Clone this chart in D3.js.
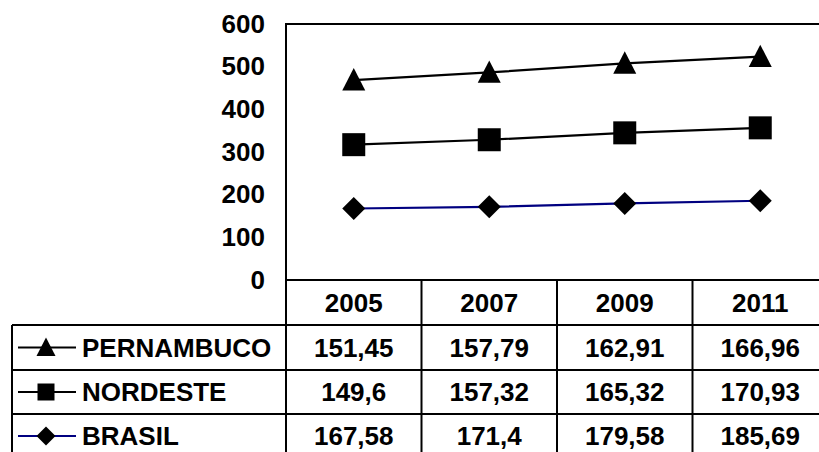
<!DOCTYPE html>
<html><head><meta charset="utf-8">
<script src="https://cdn.jsdelivr.net/npm/d3@7"></script>
<style>body{margin:0;background:#fff}svg{display:block}</style>
</head><body>
<script>
const years = ["2005","2007","2009","2011"];
const seriesNames = ["PERNAMBUCO","NORDESTE","BRASIL"];
const pernambuco = [151.45,157.79,162.91,166.96];
const nordeste = [149.6,157.32,165.32,170.93];
const brasil = [167.58,171.4,179.58,185.69];
const yTicks = [0,100,200,300,400,500,600];

const W=819,H=452;
const svg=d3.select("body").append("svg").attr("width",W).attr("height",H);
const font="'Liberation Sans', Arial, sans-serif";
const fs=26;

const plotL=286, plotR=828, plotT=24, plotB=280;
const x=d3.scaleBand().domain(years).range([plotL,plotR]);
const y=d3.scaleLinear().domain([0,600]).range([plotB,plotT]);

// stacked values (stacked line chart)
const stackBase = brasil;
const stackMid = brasil.map((v,i)=>v+nordeste[i]);
const stackTop = stackMid.map((v,i)=>v+pernambuco[i]);
const series=[
 {name:seriesNames[0], vals:pernambuco, plot:stackTop, color:"#000", sym:"tri"},
 {name:seriesNames[1], vals:nordeste, plot:stackMid, color:"#000", sym:"sq"},
 {name:seriesNames[2], vals:brasil, plot:stackBase, color:"#000080", sym:"dia"}
];

function marker(g,sym,cx,cy,s){
  let p;
  if(sym==="tri") p=`M${cx},${cy-s*0.52}L${cx+s*0.5},${cy+s*0.45}L${cx-s*0.5},${cy+s*0.45}Z`;
  else if(sym==="sq") p=`M${cx-s/2},${cy-s/2}h${s}v${s}h${-s}Z`;
  else p=`M${cx},${cy-s/2}L${cx+s/2},${cy}L${cx},${cy+s/2}L${cx-s/2},${cy}Z`;
  g.append("path").attr("d",p).attr("fill","#000");
}

// frame
svg.append("rect").attr("x",plotL).attr("y",plotT).attr("width",plotR-plotL).attr("height",plotB-plotT)
 .attr("fill","none").attr("stroke","#000").attr("stroke-width",2);

// y axis labels
const yAxis=d3.axisLeft(y).tickValues(yTicks).tickSize(0).tickPadding(21);
const ga=svg.append("g").attr("transform",`translate(${plotL},0)`).call(yAxis);
ga.select(".domain").remove();
ga.selectAll("text").attr("font-family",font).attr("font-size",fs).attr("font-weight","bold").attr("fill","#000");

// lines
const cx=yr=>x(yr)+x.bandwidth()/2;
const line=d3.line().x((d,i)=>cx(years[i])).y(d=>y(d));
series.forEach(s=>{
  svg.append("path").datum(s.plot).attr("d",line).attr("fill","none").attr("stroke",s.color).attr("stroke-width",2.2);
  const g=svg.append("g");
  s.plot.forEach((v,i)=>marker(g,s.sym,cx(years[i]),y(v),23));
});

// table
const rowTop=[280,325,370,414], rowH=[45,45,44,44];
const tbl=svg.append("g");
const tLeft=12;
const stroke=(x1,y1,x2,y2)=>tbl.append("line").attr("x1",x1).attr("y1",y1).attr("x2",x2).attr("y2",y2).attr("stroke","#000").attr("stroke-width",2);
years.forEach(yr=>{
  tbl.append("text").attr("x",cx(yr)).attr("y",rowTop[0]+rowH[0]/2).attr("dy","0.36em")
   .attr("text-anchor","middle").attr("font-family",font).attr("font-size",fs).attr("font-weight","bold").text(yr);
});
years.forEach(yr=>stroke(x(yr),280,x(yr),H+5));
stroke(tLeft,325,tLeft,H+5);
[325,370,414].forEach(yy=>stroke(tLeft,yy,plotR,yy));

series.forEach((s,ri)=>{
  const cy=rowTop[ri+1]+rowH[ri+1]/2;
  tbl.append("line").attr("x1",18).attr("x2",76).attr("y1",cy).attr("y2",cy).attr("stroke",s.color).attr("stroke-width",2);
  marker(tbl,s.sym,46,cy,s.sym==="sq"?17:19);
  tbl.append("text").attr("x",82).attr("y",cy).attr("dy","0.36em").attr("font-family",font).attr("font-size",fs)
   .attr("font-weight","bold").text(s.name);
  s.vals.forEach((v,i)=>{
    tbl.append("text").attr("x",cx(years[i])).attr("y",cy).attr("dy","0.36em").attr("text-anchor","middle")
     .attr("font-family",font).attr("font-size",fs).attr("font-weight","bold").text(String(v).replace(".",","));
  });
});
</script>
</body></html>
